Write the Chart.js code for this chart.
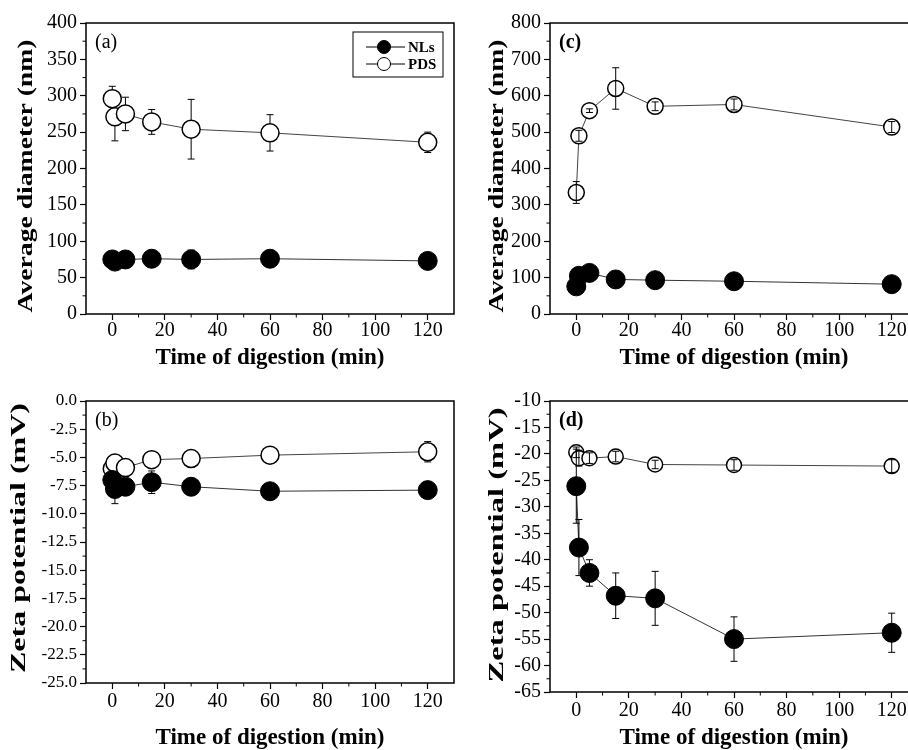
<!DOCTYPE html>
<html>
<head>
<meta charset="utf-8">
<script src="https://cdn.jsdelivr.net/npm/chart.js@4.4.1/dist/chart.umd.min.js"></script>
<style>
  html, body { margin: 0; padding: 0; background: #fff; width: 908px; height: 750px; overflow: hidden; }
  canvas { position: absolute; left: 0; top: 0; }
</style>
</head>
<body>
<canvas id="chartA" width="940" height="750"></canvas>
<canvas id="chartB" width="940" height="750"></canvas>
<canvas id="chartC" width="940" height="750"></canvas>
<canvas id="chartD" width="940" height="750"></canvas>
<script>
// sampling times (min), same for every panel
const times = [0, 1, 5, 15, 30, 60, 120];
const xTicks = [0, 20, 40, 60, 80, 100, 120];
const xMinor = [10, 30, 50, 70, 90, 110];

// (a) average diameter (nm)
const nlsDiamA = [75, 72, 75, 76, 75, 76, 73];
const nlsDiamErrA = [3, 3, 3, 3, 13, 3, 2];
const pdsDiamA = [296, 271, 275, 264, 254, 249, 236];
const pdsDiamErrA = [17, 33, 23, 17, 41, 25, 14];
const yTicksA = [0, 50, 100, 150, 200, 250, 300, 350, 400];
const yMinorA = [25, 75, 125, 175, 225, 275, 325, 375];

// (b) zeta potential (mV)
const nlsZetaB = [-7.0, -7.8, -7.6, -7.2, -7.6, -8.0, -7.9];
const nlsZetaErrB = [0.3, 1.3, 0.3, 1.0, 0.3, 0.2, 0.2];
const pdsZetaB = [-6.0, -5.5, -5.9, -5.2, -5.1, -4.8, -4.5];
const pdsZetaErrB = [0.3, 0.6, 0.3, 0.6, 0.5, 0.5, 0.9];
const yTicksB = [0, -2.5, -5, -7.5, -10, -12.5, -15, -17.5, -20, -22.5, -25];
const yMinorB = [-1.25, -3.75, -6.25, -8.75, -11.25, -13.75, -16.25, -18.75, -21.25, -23.75];

// (c) average diameter (nm)
const nlsDiamC = [76, 105, 113, 95, 93, 90, 82];
const nlsDiamErrC = [5, 8, 8, 6, 6, 6, 5];
const pdsDiamC = [334, 490, 559, 620, 571, 576, 514];
const pdsDiamErrC = [30, 15, 5, 57, 12, 15, 15];
const yTicksC = [0, 100, 200, 300, 400, 500, 600, 700, 800];
const yMinorC = [50, 150, 250, 350, 450, 550, 650, 750];

// (d) zeta potential (mV)
const nlsZetaD = [-26.1, -37.7, -42.5, -46.8, -47.3, -55.0, -53.8];
const nlsZetaErrD = [7, 5.3, 2.5, 4.3, 5.1, 4.2, 3.7];
const pdsZetaD = [-19.7, -20.8, -20.8, -20.5, -22.0, -22.1, -22.3];
const pdsZetaErrD = [1, 1.5, 1, 1, 0.8, 1, 1.2];
const yTicksD = [-10, -15, -20, -25, -30, -35, -40, -45, -50, -55, -60, -65];
const yMinorD = [-12.5, -17.5, -22.5, -27.5, -32.5, -37.5, -42.5, -47.5, -52.5, -57.5, -62.5];

const seriesNames = ['NLs', 'PDS'];

const SERIF = "'Liberation Serif', 'Times New Roman', serif";
Chart.defaults.font.family = SERIF;
Chart.defaults.color = '#000';

// frame, minor ticks, error bars, panel letter, y title, legend
const panelDeco = {
    id: 'panelDeco',
    beforeDatasetsDraw(chart, args, opts) {
        if (!opts.barsOnTop) drawErrorBars(chart);
    },
    afterDatasetsDraw(chart, args, opts) {
        if (opts.barsOnTop) drawErrorBars(chart);
    },
    afterDraw(chart, args, opts) {
        const ctx = chart.ctx;
        const a = chart.chartArea;
        const xs = chart.scales.x;
        const ys = chart.scales.y;
        ctx.save();
        ctx.strokeStyle = '#000';
        ctx.lineWidth = 1.5;
        ctx.strokeRect(a.left, a.top, a.right - a.left, a.bottom - a.top);

        // minor ticks
        ctx.lineWidth = 1;
        ctx.beginPath();
        xMinor.forEach(v => {
            const px = xs.getPixelForValue(v);
            ctx.moveTo(px, a.bottom);
            ctx.lineTo(px, a.bottom + 3.5);
        });
        opts.yMinor.forEach(v => {
            const py = ys.getPixelForValue(v);
            ctx.moveTo(a.left, py);
            ctx.lineTo(a.left - 3.5, py);
        });
        ctx.stroke();

        // panel letter
        ctx.fillStyle = '#000';
        ctx.font = (opts.letterBold ? 'bold ' : '') + '20px ' + SERIF;
        ctx.textAlign = 'left';
        ctx.textBaseline = 'middle';
        ctx.fillText(opts.letter, a.left + 9, a.top + 20);

        // y title, stretched along the axis like the original
        ctx.save();
        ctx.translate(opts.yTitleX, opts.yTitleY);
        ctx.rotate(-Math.PI / 2);
        ctx.font = 'bold 22px ' + SERIF;
        const w = ctx.measureText(opts.yTitle).width;
        ctx.scale(opts.yTitleLen / w, 1);
        ctx.textAlign = 'center';
        ctx.textBaseline = 'middle';
        ctx.fillText(opts.yTitle, 0, 0);
        ctx.restore();

        if (opts.legend) drawLegend(chart, opts.legend);
        ctx.restore();
    }
};

function drawErrorBars(chart) {
    const ctx = chart.ctx;
    const xs = chart.scales.x;
    const ys = chart.scales.y;
    ctx.save();
    ctx.strokeStyle = '#000';
    ctx.lineWidth = 1;
    chart.data.datasets.forEach(ds => {
        ds.data.forEach((pt, j) => {
            const e = ds.errors[j];
            const px = xs.getPixelForValue(pt.x);
            const top = ys.getPixelForValue(pt.y + e);
            const bot = ys.getPixelForValue(pt.y - e);
            ctx.beginPath();
            ctx.moveTo(px, top); ctx.lineTo(px, bot);
            ctx.moveTo(px - 3.5, top); ctx.lineTo(px + 3.5, top);
            ctx.moveTo(px - 3.5, bot); ctx.lineTo(px + 3.5, bot);
            ctx.stroke();
        });
    });
    ctx.restore();
}

function drawLegend(chart, lg) {
    const ctx = chart.ctx;
    ctx.strokeStyle = '#000';
    ctx.lineWidth = 1;
    ctx.strokeRect(lg.x, lg.y, lg.w, lg.h);
    ctx.font = 'bold 15px ' + SERIF;
    ctx.textAlign = 'left';
    ctx.textBaseline = 'middle';
    chart.data.datasets.forEach((ds, i) => {
        const cy = lg.y + 15 + i * 17;
        const cx = lg.x + 31;
        ctx.beginPath();
        ctx.moveTo(lg.x + 13, cy);
        ctx.lineTo(lg.x + 52, cy);
        ctx.stroke();
        ctx.beginPath();
        ctx.arc(cx, cy, 6.5, 0, Math.PI * 2);
        ctx.fillStyle = ds.pointBackgroundColor;
        ctx.fill();
        ctx.stroke();
        ctx.fillStyle = '#000';
        ctx.fillText(ds.label, lg.x + 55, cy + 1);
    });
}

function makePanel(id, p) {
    const points = (vals) => vals.map((v, j) => ({ x: times[j], y: v }));
    const ctx = document.getElementById(id).getContext('2d');
    return new Chart(ctx, {
        type: 'line',
        data: {
            datasets: [
                {
                    label: seriesNames[0],
                    data: points(p.nls),
                    errors: p.nlsErr,
                    borderColor: '#333',
                    borderWidth: 1,
                    pointRadius: 9.5,
                    pointHoverRadius: 9.5,
                    pointBackgroundColor: '#000',
                    pointBorderColor: '#000',
                    pointBorderWidth: 1
                },
                {
                    label: seriesNames[1],
                    data: points(p.pds),
                    errors: p.pdsErr,
                    borderColor: '#444',
                    borderWidth: 1,
                    pointRadius: p.openRadius,
                    pointHoverRadius: p.openRadius,
                    pointBackgroundColor: '#fff',
                    pointBorderColor: '#000',
                    pointBorderWidth: 1.5
                }
            ]
        },
        options: {
            responsive: false,
            animation: false,
            events: [],
            layout: { padding: p.padding },
            plugins: {
                legend: { display: false },
                tooltip: { enabled: false },
                panelDeco: p.deco
            },
            scales: {
                x: {
                    type: 'linear',
                    min: -10,
                    max: 130,
                    afterBuildTicks: s => { s.ticks = xTicks.map(v => ({ value: v })); },
                    afterFit: s => { s.height = p.xHeight; },
                    border: { display: false },
                    grid: { drawOnChartArea: false, tickLength: 6, tickColor: '#000', tickWidth: 1.2 },
                    ticks: { font: { size: 20, lineHeight: 1 }, padding: p.xTickPad, maxRotation: 0, color: '#000' },
                    title: {
                        display: true,
                        text: 'Time of digestion (min)',
                        font: { size: 23, weight: 'bold', lineHeight: 1 },
                        padding: { top: 0, bottom: p.xTitlePad },
                        color: '#000'
                    }
                },
                y: {
                    type: 'linear',
                    min: p.yMin,
                    max: p.yMax,
                    afterBuildTicks: s => { s.ticks = p.yTicks.map(v => ({ value: v })); },
                    afterFit: s => { s.width = p.yWidth; },
                    border: { display: false },
                    grid: { drawOnChartArea: false, tickLength: 6, tickColor: '#000', tickWidth: 1.2 },
                    ticks: {
                        font: { size: p.yFont, lineHeight: 1 },
                        padding: 3,
                        color: '#000',
                        callback: v => p.fmt(v)
                    }
                }
            }
        },
        plugins: [panelDeco]
    });
}

const intFmt = v => String(Math.round(v));

makePanel('chartA', {
    nls: nlsDiamA, nlsErr: nlsDiamErrA, pds: pdsDiamA, pdsErr: pdsDiamErrA,
    yMin: 0, yMax: 400, yTicks: yTicksA, fmt: intFmt, yFont: 20, openRadius: 9,
    padding: { left: 40, top: 23, right: 486, bottom: 376 },
    yWidth: 46, xHeight: 60, xTickPad: 1, xTitlePad: 4.5,
    deco: {
        letter: '(a)', yMinor: yMinorA, yTitle: 'Average diameter (nm)',
        yTitleX: 26, yTitleY: 176, yTitleLen: 273,
        legend: { x: 353, y: 32, w: 90, h: 45 }
    }
});

makePanel('chartB', {
    nls: nlsZetaB, nlsErr: nlsZetaErrB, pds: pdsZetaB, pdsErr: pdsZetaErrB,
    yMin: -25, yMax: 0, yTicks: yTicksB, fmt: v => v.toFixed(1), yFont: 17, openRadius: 9,
    padding: { left: 40, top: 401, right: 486, bottom: 0 },
    yWidth: 46, xHeight: 67, xTickPad: 3, xTitlePad: 0.5,
    deco: {
        letter: '(b)', yMinor: yMinorB, yTitle: 'Zeta potential (mV)',
        yTitleX: 19, yTitleY: 538, yTitleLen: 270
    }
});

makePanel('chartC', {
    nls: nlsDiamC, nlsErr: nlsDiamErrC, pds: pdsDiamC, pdsErr: pdsDiamErrC,
    yMin: 0, yMax: 800, yTicks: yTicksC, fmt: intFmt, yFont: 20, openRadius: 8,
    padding: { left: 500, top: 23, right: 22, bottom: 376 },
    yWidth: 50, xHeight: 60, xTickPad: 1, xTitlePad: 4.5,
    deco: {
        letter: '(c)', letterBold: true, barsOnTop: true, yMinor: yMinorC, yTitle: 'Average diameter (nm)',
        yTitleX: 497, yTitleY: 176, yTitleLen: 273
    }
});

makePanel('chartD', {
    nls: nlsZetaD, nlsErr: nlsZetaErrD, pds: pdsZetaD, pdsErr: pdsZetaErrD,
    yMin: -65, yMax: -10, yTicks: yTicksD, fmt: intFmt, yFont: 20, openRadius: 7.5,
    padding: { left: 500, top: 401, right: 22, bottom: 0 },
    yWidth: 50, xHeight: 58, xTickPad: 3, xTitlePad: 0.5,
    deco: {
        letter: '(d)', letterBold: true, barsOnTop: true, yMinor: yMinorD, yTitle: 'Zeta potential (mV)',
        yTitleX: 497, yTitleY: 545, yTitleLen: 275
    }
});
</script>
</body>
</html>
